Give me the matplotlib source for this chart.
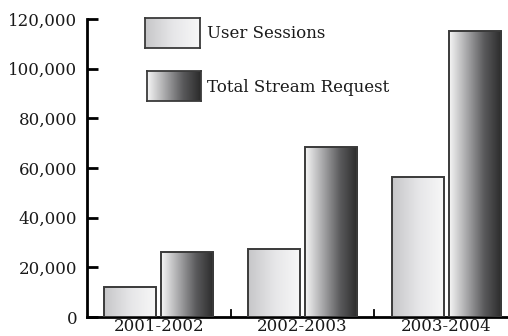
import numpy as np
import matplotlib
matplotlib.use("Agg")
import matplotlib.pyplot as plt
from matplotlib.colors import LinearSegmentedColormap

categories = ["2001-2002", "2002-2003", "2003-2004"]
series_names = ["User Sessions", "Total Stream Request"]
user_sessions = [12000, 27500, 56500]
total_stream = [26000, 68500, 115000]
yticks = [0, 20000, 40000, 60000, 80000, 100000, 120000]

plt.rcParams['font.family'] = ['DejaVu Serif']
plt.rcParams['text.color'] = '#1a1a1a'

cmap_us = LinearSegmentedColormap.from_list("us", ["#c6c6c8", "#e6e6e8", "#f8f8f8"])
cmap_ts = LinearSegmentedColormap.from_list("ts", ["#f6f6f6", "#a8a8aa", "#5a5a5c", "#2a2a2a"])
grad = np.linspace(0, 1, 256).reshape(1, -1)

fig = plt.figure(figsize=(5.08, 3.36), dpi=100)
ax = fig.add_axes([87/508, (336-317)/336, (518-87)/508, (317-19)/336])

x = np.arange(len(categories))
w = 0.362
gap = 0.035
offsets = [-(w+gap)/2, (w+gap)/2]

for vals, off, cm in [(user_sessions, offsets[0], cmap_us), (total_stream, offsets[1], cmap_ts)]:
    bars = ax.bar(x + off, vals, width=w, facecolor='none', edgecolor='#3a3a3a', linewidth=1.4, zorder=3)
    for b in bars:
        x0, y0 = b.get_x(), b.get_y()
        im = ax.imshow(grad, cmap=cm, aspect='auto', extent=[x0, x0 + b.get_width(), y0, y0 + b.get_height()], zorder=2)
        im.set_clip_path(b)

ax.set_xlim(-0.5, len(categories) - 0.5)
ax.set_ylim(0, 120000)
ax.set_yticks(yticks)
ax.set_yticklabels([f"{v:,}" for v in yticks], fontsize=12, color='#1a1a1a')
ax.set_xticks(x)
ax.set_xticklabels(categories, fontsize=12, color='#1a1a1a')
ax.tick_params(axis='x', length=0, pad=1)
ax.tick_params(axis='y', direction='in', length=8, width=2, pad=7)
for s in ['top', 'right']:
    ax.spines[s].set_visible(False)
ax.spines['left'].set_linewidth(2)
ax.spines['bottom'].set_linewidth(2)
# category separators
for sep in x[:-1] + 0.5:
    ax.plot([sep, sep], [0, 3000], color='black', lw=1.3, zorder=4, clip_on=False)

# legend
leg = [((145, 18, 55, 30), cmap_us, series_names[0], 33),
       ((147, 71, 54, 30), cmap_ts, series_names[1], 87)]
for (lx, ly, lw, lh), cm, name, ty in leg:
    lax = fig.add_axes([lx/508, (336-ly-lh)/336, lw/508, lh/336])
    lax.imshow(grad, cmap=cm, aspect='auto', extent=[0, 1, 0, 1])
    lax.set_xticks([]); lax.set_yticks([])
    for s in lax.spines.values():
        s.set_linewidth(1.3); s.set_color('#3a3a3a')
    fig.text(207/508, (336-ty)/336, name, fontsize=12, va='center', ha='left')

fig.savefig("out.png", dpi=100)
